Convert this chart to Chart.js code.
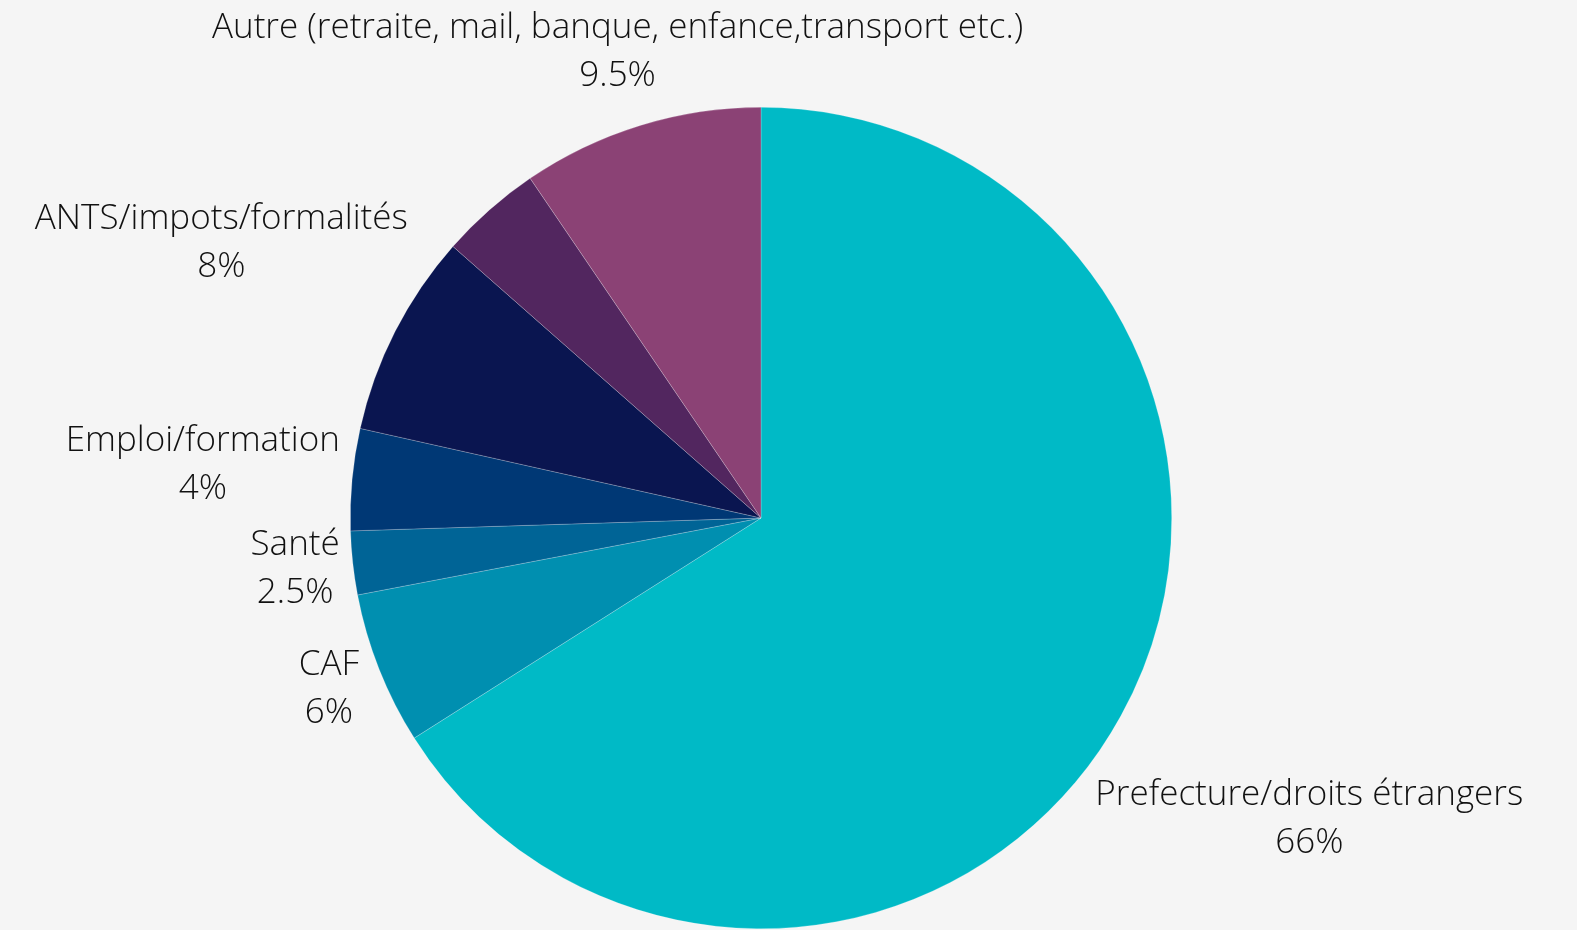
<!DOCTYPE html>
<html>
<head>
<meta charset="utf-8">
<script src="https://cdn.jsdelivr.net/npm/chart.js@4/dist/chart.umd.min.js"></script>
<style>
  html, body { margin: 0; padding: 0; background: #f5f5f5; }
  #wrap { width: 1577px; height: 930px; }
</style>
</head>
<body>
<div id="wrap"><canvas id="pie"></canvas></div>
<script>
// Répartition des demandes par thème (camembert, départ en haut, sens horaire)
const categories = [
    "Prefecture/droits étrangers",
    "CAF",
    "Santé",
    "Emploi/formation",
    "ANTS/impots/formalités",
    "",
    "Autre (retraite, mail, banque, enfance,transport etc.)"
];
const values = [66, 6, 2.5, 4, 8, 4, 9.5];
const valueLabels = ["66%", "6%", "2.5%", "4%", "8%", "", "9.5%"];
const sliceColors = ["#00BAC6", "#008FB0", "#006496", "#003875", "#0A1550", "#52265F", "#8B4275"];

const LABEL_FONT = "300 35px 'Open Sans'";
const LABEL_LINE = 48;
const LABEL_GAP = 10;

// étiquettes placées sur la bissectrice de chaque part, juste à l'extérieur du cercle
const outsideLabels = {
    id: "outsideLabels",
    afterDraw(chart) {
        const ctx = chart.ctx;
        const meta = chart.getDatasetMeta(0);
        ctx.save();
        ctx.font = LABEL_FONT;
        ctx.fillStyle = "#111111";
        ctx.textAlign = "center";
        ctx.textBaseline = "middle";
        meta.data.forEach((arc, i) => {
            if (!categories[i]) return;
            const { x, y, startAngle, endAngle, outerRadius } = arc.getProps(["x", "y", "startAngle", "endAngle", "outerRadius"], true);
            const mid = (startAngle + endAngle) / 2;
            const ux = Math.cos(mid), uy = Math.sin(mid);
            const halfW = Math.max(ctx.measureText(categories[i]).width, ctx.measureText(valueLabels[i]).width) / 2;
            const halfH = LABEL_LINE - 3;
            let d = outerRadius;
            for (; d < outerRadius * 3; d += 1) {
                const bx = ux * d, by = uy * d;
                const nx = Math.max(Math.abs(bx) - halfW, 0);
                const ny = Math.max(Math.abs(by) - halfH, 0);
                if (Math.hypot(nx, ny) >= outerRadius + LABEL_GAP) break;
            }
            const cx = x + ux * d, cy = y + uy * d;
            ctx.fillText(categories[i], cx, cy - LABEL_LINE / 2);
            ctx.fillText(valueLabels[i], cx, cy + LABEL_LINE / 2);
        });
        ctx.restore();
    }
};

new Chart(document.getElementById("pie"), {
    type: "pie",
    data: {
        labels: categories,
        datasets: [{
            data: values,
            backgroundColor: sliceColors,
            borderColor: "rgba(255,255,255,0.35)",
            borderWidth: 0.6
        }]
    },
    options: {
        responsive: true,
        maintainAspectRatio: false,
        animation: false,
        layout: { padding: { top: 107, bottom: 1, left: 300, right: 355 } },
        plugins: {
            legend: { display: false },
            tooltip: { enabled: false }
        }
    },
    plugins: [outsideLabels]
});
</script>
</body>
</html>
